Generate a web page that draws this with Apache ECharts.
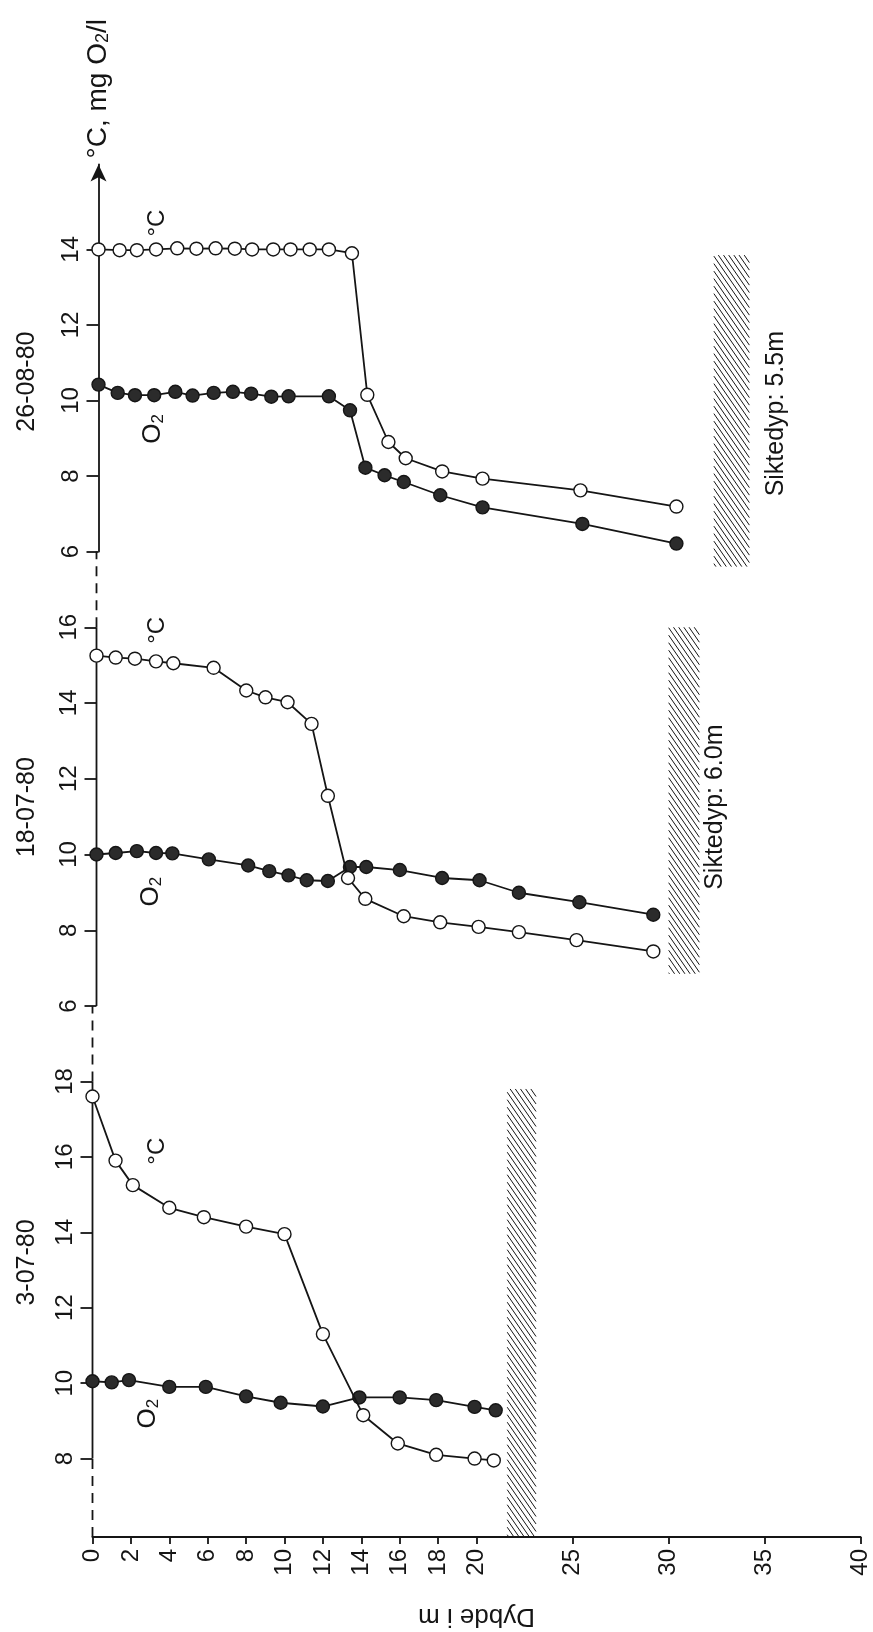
<!DOCTYPE html>
<html>
<head>
<meta charset="utf-8">
<script src="https://cdn.jsdelivr.net/npm/echarts@6/dist/echarts.min.js"></script>
<style>
  html, body { margin: 0; padding: 0; background: #fff; }
  #main { width: 873px; height: 1632px; }
</style>
</head>
<body>
<div id="main"></div>
<script>
// dybde (m) og verdier, lest av figuren
const depthTicks = [0, 2, 4, 6, 8, 10, 12, 14, 16, 18, 20, 25, 30, 35, 40];

// 3-07-80
const depthTempJul03 = [0, 1.2, 2.1, 4, 5.8, 8, 10, 12, 14.1, 15.9, 17.9, 19.9, 20.9];
const tempJul03 = [17.6, 15.9, 15.25, 14.65, 14.4, 14.15, 13.95, 11.3, 9.15, 8.4, 8.1, 8.0, 7.95];
const depthO2Jul03 = [0, 1, 1.9, 4, 5.9, 8, 9.8, 12, 13.9, 16, 17.9, 19.9, 21];
const o2Jul03 = [10.05, 10.02, 10.08, 9.9, 9.9, 9.65, 9.48, 9.38, 9.62, 9.62, 9.55, 9.37, 9.28];

// 18-07-80
const depthTempJul18 = [0, 1, 2, 3.1, 4, 6.1, 7.8, 8.8, 9.95, 11.2, 12.05, 13.1, 14, 16, 17.9, 19.9, 22, 25, 29];
const tempJul18 = [15.25, 15.2, 15.17, 15.1, 15.05, 14.93, 14.33, 14.15, 14.02, 13.45, 11.55, 9.38, 8.83, 8.37, 8.21, 8.09, 7.95, 7.74, 7.44];
const depthO2Jul18 = [0, 1, 2.1, 3.1, 3.95, 5.85, 7.9, 9, 10, 10.95, 12.05, 13.2, 14.05, 15.8, 18, 19.95, 22, 25.15, 29];
const o2Jul18 = [10.0, 10.04, 10.09, 10.04, 10.03, 9.87, 9.71, 9.56, 9.45, 9.32, 9.3, 9.67, 9.67, 9.59, 9.38, 9.32, 8.99, 8.74, 8.41];

// 26-08-80
const depthTempAug26 = [0, 1.1, 2, 3, 4.1, 5.1, 6.1, 7.1, 8, 9.1, 10, 11, 12, 13.2, 14, 15.1, 16, 17.9, 20, 25.1, 30.1];
const tempAug26 = [14.0, 13.98, 13.98, 14.0, 14.03, 14.02, 14.03, 14.02, 14.0, 14.0, 14.0, 14.0, 14.0, 13.9, 10.15, 8.9, 8.47, 8.12, 7.93, 7.62, 7.19];
const depthO2Aug26 = [0, 1, 1.9, 2.9, 4, 4.9, 6, 7, 7.95, 9, 9.9, 12, 13.1, 13.9, 14.9, 15.9, 17.8, 20, 25.2, 30.1];
const o2Aug26 = [10.42, 10.2, 10.14, 10.14, 10.23, 10.13, 10.2, 10.23, 10.18, 10.1, 10.11, 10.11, 9.74, 8.22, 8.02, 7.84, 7.49, 7.17, 6.73, 6.21];

// bunn (skravert): [dybde fra, dybde til, verdi fra, verdi til], per panel (0 = øverst)
const bottomZones = [
  [32.05, 33.9, 5.6, 13.85],
  [29.8, 31.4, 6.85, 16.0],
  [21.6, 23.1, 5.9, 17.8]
];
const dateLabels = ['26-08-80', '18-07-80', '3-07-80'];
const dateValues = [10.5, 11.25, 13.2];
const siktedyp = [['Siktedyp: 5.5m', 0, 35.3, 9.65], ['Siktedyp: 6.0m', 1, 32.2, 11.25]];

const FONT = '"Liberation Sans", Arial, sans-serif';
const INK = '#151515';

const chart = echarts.init(document.getElementById('main'));

const grids = [
  { left: 98.5, right: 6.5, top: 164.5, height: 387 },
  { left: 96.5, right: 8.5, top: 551.5, height: 454.5 },
  { left: 92.5, right: 12.5, top: 1006, height: 531 }
];

const xAxes = grids.map((g, i) => ({
  type: 'value', gridIndex: i, min: 0, max: 40,
  show: i === 2,
  splitLine: { show: false },
  axisLine: { show: true, lineStyle: { color: INK, width: 2 } },
  axisTick: { show: true, customValues: depthTicks, length: 7, lineStyle: { color: INK, width: 1.8 } },
  axisLabel: {
    customValues: depthTicks, rotate: 90, margin: 12,
    fontSize: 24, fontFamily: FONT, color: INK
  },
  name: i === 2 ? 'Dybde i m' : '',
  nameLocation: 'middle', nameRotate: 180, nameGap: 66,
  nameTextStyle: { fontSize: 26, fontFamily: FONT, color: INK }
}));

const yRanges = [[6, 16.25], [6, 18], [5.92, 20]];
const yTicks = [[6, 8, 10, 12, 14], [6, 8, 10, 12, 14, 16], [8, 10, 12, 14, 16, 18]];

const yAxes = yRanges.map((r, i) => ({
  type: 'value', gridIndex: i, min: r[0], max: r[1],
  splitLine: { show: false },
  axisLine: i === 0
    ? { show: true, symbol: ['none', 'arrow'], symbolSize: [12, 17], lineStyle: { color: INK, width: 1.8 } }
    : { show: false },
  axisTick: { show: true, customValues: yTicks[i], length: 12, lineStyle: { color: INK, width: 1.8 } },
  axisLabel: {
    customValues: yTicks[i], rotate: 90, margin: 15,
    fontSize: 24, fontFamily: FONT, color: INK
  },
  name: i === 0 ? '°C, mg O{s|2}/l' : '',
  nameLocation: 'end', nameRotate: 90, nameGap: 6,
  nameTextStyle: {
    fontSize: 28, fontFamily: FONT, color: INK,
    rich: { s: { fontSize: 18, fontFamily: FONT, color: INK, verticalAlign: 'bottom', padding: [10, 0, 0, 0] } }
  }
}));

function axisSeg(g, from, to, dashed) {
  return {
    type: 'line', xAxisIndex: g, yAxisIndex: g, silent: true, clip: false, z: 1,
    symbol: 'none', data: [[0, from], [0, to]],
    lineStyle: { color: INK, width: 1.8, type: dashed ? [10, 7] : 'solid' }
  };
}

function profile(g, depths, values, filled) {
  return {
    type: 'line', xAxisIndex: g, yAxisIndex: g, z: filled ? 3 : 4,
    data: depths.map((d, k) => [d, values[k]]),
    symbol: 'circle', symbolSize: 13,
    itemStyle: { color: filled ? '#2b2b2b' : '#fff', borderColor: INK, borderWidth: 1.4 },
    lineStyle: { color: INK, width: 1.8 },
    emphasis: { disabled: true }
  };
}

function hatch(g) {
  return {
    type: 'custom', xAxisIndex: g, yAxisIndex: g, silent: true, clip: false, z: 2,
    data: [bottomZones[g]],
    encode: { x: [0, 1], y: [2, 3] },
    renderItem: function (params, api) {
      const a = api.coord([api.value(0), api.value(3)]);
      const b = api.coord([api.value(1), api.value(2)]);
      const x0 = a[0], y0 = a[1], x1 = b[0], y1 = b[1];
      const slope = 1.45, step = 7.5;
      const w = x1 - x0;
      const children = [];
      for (let t = y0 - slope * w; t < y1; t += step) {
        let xs = Math.max(x0, x0 + (y0 - t) / slope);
        let xe = Math.min(x1, x0 + (y1 - t) / slope);
        if (xe <= xs) continue;
        children.push({
          type: 'line',
          shape: { x1: xs, y1: t + slope * (xs - x0), x2: xe, y2: t + slope * (xe - x0) },
          style: { stroke: INK, lineWidth: 1 }
        });
      }
      return { type: 'group', children: children };
    }
  };
}

const series = [
  axisSeg(1, 6, 16, false), axisSeg(1, 16, 18, true),
  axisSeg(2, 5.92, 8, true), axisSeg(2, 8, 18, false), axisSeg(2, 18, 20, true),
  hatch(0), hatch(1), hatch(2),
  profile(0, depthO2Aug26, o2Aug26, true), profile(0, depthTempAug26, tempAug26, false),
  profile(1, depthO2Jul18, o2Jul18, true), profile(1, depthTempJul18, tempJul18, false),
  profile(2, depthO2Jul03, o2Jul03, true), profile(2, depthTempJul03, tempJul03, false)
];

chart.setOption({
  animation: false,
  backgroundColor: '#fff',
  grid: grids,
  xAxis: xAxes,
  yAxis: yAxes,
  series: series
});

// tekst i figuren, plassert i dataenheter
const notes = [
  [0, 2.84, 9.25, '{o|O}{s|2}'], [1, 2.85, 9.02, '{o|O}{s|2}'], [2, 2.9, 9.19, '{o|O}{s|2}'],
  [0, 3.05, 14.7, '°C'], [1, 3.15, 15.92, '°C'], [2, 3.36, 16.15, '°C']
];
const richStyle = {
  o: { fontSize: 26, fontFamily: FONT, color: INK },
  s: { fontSize: 17, fontFamily: FONT, color: INK, verticalAlign: 'bottom', padding: [10, 0, 0, 0] }
};

function rotText(p, text, size, rich) {
  return {
    type: 'text', x: p[0], y: p[1], rotation: Math.PI / 2, silent: true, z: 10,
    style: {
      text: text, fontSize: size, fontFamily: FONT, fill: INK,
      align: 'center', verticalAlign: 'middle', rich: rich
    }
  };
}

const graphics = [];
notes.forEach(n => {
  graphics.push(rotText(chart.convertToPixel({ gridIndex: n[0] }, [n[1], n[2]]), n[3], 24, richStyle));
});
dateLabels.forEach((t, i) => {
  const p = chart.convertToPixel({ gridIndex: i }, [0, dateValues[i]]);
  graphics.push(rotText([27, p[1]], t, 25));
});
siktedyp.forEach(s => {
  graphics.push(rotText(chart.convertToPixel({ gridIndex: s[1] }, [s[2], s[3]]), s[0], 25));
});

chart.setOption({ graphic: graphics });

window.addEventListener('resize', function () {
  chart.resize();
});
</script>
</body>
</html>
